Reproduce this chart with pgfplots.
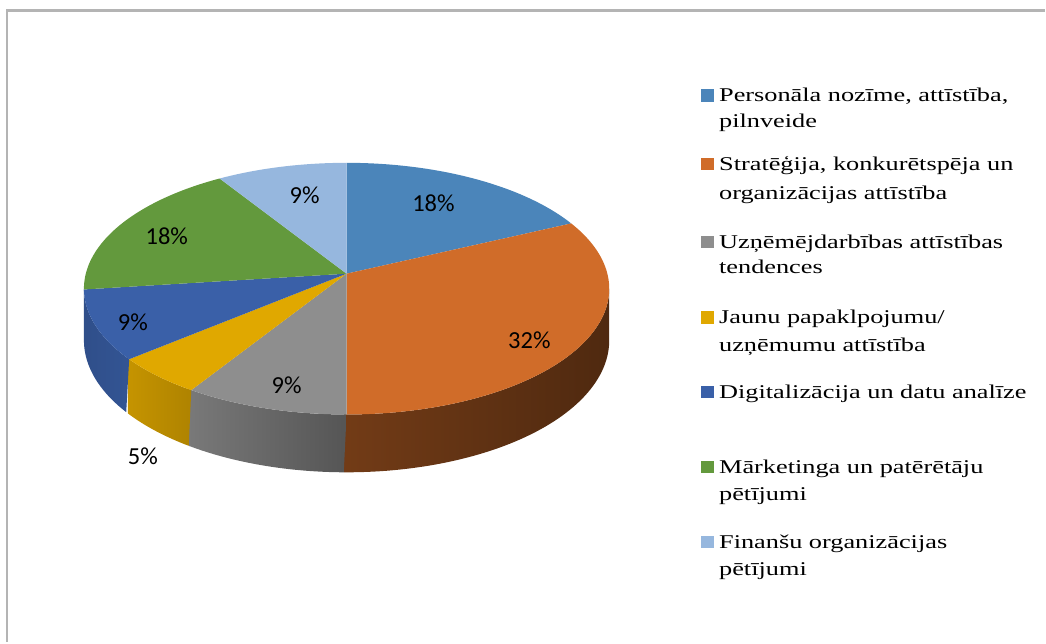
\documentclass[border=0pt]{standalone}
\usepackage{pgfplots}
\usepackage{pgfplotstable}
\pgfplotsset{compat=1.18}
\usepackage{fontspec}
\setmainfont{Liberation Serif}
\newfontfamily\lserif[FakeStretch=1.35]{Liberation Serif}
\newfontfamily\lcal{Carlito}
\newcommand\legendfont{\fontsize{19.5bp}{26bp}\selectfont\lserif}
\newcommand\pctfont{\fontsize{24.5bp}{28bp}\selectfont\lcal}
\definecolor{pie0}{HTML}{4B85BA}
\definecolor{pie1}{HTML}{D06C29}
\definecolor{pie2}{HTML}{8E8E8E}
\definecolor{pie3}{HTML}{E0A800}
\definecolor{pie4}{HTML}{3A60A8}
\definecolor{pie5}{HTML}{63993D}
\definecolor{pie6}{HTML}{96B7DE}
\definecolor{frame}{HTML}{B4B4B4}
\newcommand\getang[1]{\csname ang#1\endcsname}
\newcommand\row[2]{\raisebox{0pt}[#1bp][0pt]{#2}}
\newcommand\cont[2]{\addlegendimage{empty legend}\addlegendentry{\row{#1}{#2}}}
\begin{document}
\begin{tikzpicture}
\pgfplotstableread{
share
18
32
9
5
9
18
9
}\piedata
\expandafter\def\csname ang0\endcsname{90}
\def\cum{90}
\pgfplotsforeachungrouped \i in {0,...,6}{%
  \pgfplotstablegetelem{\i}{share}\of\piedata
  \pgfmathsetmacro\cum{\cum-3.6*\pgfplotsretval}%
  \pgfmathtruncatemacro\j{\i+1}%
  \expandafter\xdef\csname ang\j\endcsname{\cum}%
}
\begin{axis}[
  width=1046bp, height=643bp, scale only axis,
  xmin=0, xmax=1046, ymin=0, ymax=643, y dir=reverse,
  hide axis, clip=false,
  declare function={
    px(\t)=347+261.1*cos(\t)/(1+0.119*sin(\t));
    py(\t)=274-124.2*sin(\t)/(1+0.119*sin(\t));
    dep(\t)=51/(1+0.119*sin(\t));
    sa(\a,\b,\s)=\a+(\b-\a)*(1-abs(\s-1));
  },
  legend style={draw=none, fill=none, inner sep=0pt, outer sep=0pt,
    at={(axis cs:702,84)}, anchor=north west,
    row sep=-1.3bp, column sep=5.5bp, cells={anchor=base west},
    font=\legendfont, nodes={inner sep=0pt, outer sep=0pt}},
  legend image code/.code={\fill[#1] (0bp,0bp) rectangle (12.5bp,12.5bp);},
]
\path (rel axis cs:0,0) rectangle (rel axis cs:1,1);
\draw[frame, line width=2.5bp] (axis cs:7,643) -- (axis cs:7,10.5) -- (axis cs:1046,10.5);
% sides (slightly overlapping seams)
\addplot[forget plot, draw=none, left color=pie1!55!black, right color=pie1!38!black, domain=0:2, samples=121]
  ({px(sa(\getang{2}-0.5,-6.83,x))}, {py(sa(\getang{2}-0.5,-6.83,x))+(x>1)*dep(sa(\getang{2}-0.5,-6.83,x))}) -- cycle;
\addplot[forget plot, draw=none, left color=pie2!85!black, right color=pie2!60!black, domain=0:2, samples=121]
  ({px(sa(\getang{3}-0.5,\getang{2},x))}, {py(sa(\getang{3}-0.5,\getang{2},x))+(x>1)*dep(sa(\getang{3}-0.5,\getang{2},x))}) -- cycle;
\addplot[forget plot, draw=none, left color=pie3!88!black, right color=pie3!78!black, domain=0:2, samples=61]
  ({px(sa(\getang{4}-0.5,\getang{3},x))}, {py(sa(\getang{4}-0.5,\getang{3},x))+(x>1)*dep(sa(\getang{4}-0.5,\getang{3},x))}) -- cycle;
\addplot[forget plot, draw=none, left color=pie4!82!black, right color=pie4!88!black, domain=0:2, samples=61]
  ({px(sa(\getang{5},\getang{4},x))}, {py(sa(\getang{5},\getang{4},x))+(x>1)*dep(sa(\getang{5},\getang{4},x))}) -- cycle;
% top faces
\addplot[draw=none, fill=pie0, domain=\getang{1}:\getang{0}, samples=60] ({px(x)},{py(x)}) -- (347,274) -- cycle;
\addlegendentry{\row{18}{Personāla nozīme, attīstība,}}
\cont{25}{pilnveide}
\addplot[draw=none, fill=pie1, domain=\getang{2}:\getang{1}, samples=90] ({px(x)},{py(x)}) -- (347,274) -- cycle;
\addlegendentry{\row{43}{Stratēģija, konkurētspēja un}}
\cont{29}{organizācijas attīstība}
\addplot[draw=none, fill=pie2, domain=\getang{3}:\getang{2}, samples=40] ({px(x)},{py(x)}) -- (347,274) -- cycle;
\addlegendentry{\row{49}{Uzņēmējdarbības attīstības}}
\cont{25}{tendences}
\addplot[draw=none, fill=pie3, domain=\getang{4}:\getang{3}, samples=30] ({px(x)},{py(x)}) -- (347,274) -- cycle;
\addlegendentry{\row{50}{Jaunu papaklpojumu/}}
\cont{28}{uzņēmumu attīstība}
\addplot[draw=none, fill=pie4, domain=\getang{5}:\getang{4}, samples=40] ({px(x)},{py(x)}) -- (347,274) -- cycle;
\addlegendentry{\row{46}{Digitalizācija un datu analīze}}
\addplot[draw=none, fill=pie5, domain=\getang{6}:\getang{5}, samples=60] ({px(x)},{py(x)}) -- (347,274) -- cycle;
\addlegendentry{\row{75}{Mārketinga un patērētāju}}
\cont{27}{pētījumi}
\addplot[draw=none, fill=pie6, domain=\getang{7}:\getang{6}, samples=40] ({px(x)},{py(x)}) -- (347,274) -- cycle;
\addlegendentry{\row{48}{Finanšu organizācijas}}
\cont{27}{pētījumi}
% labels
\node[font=\pctfont] at (axis cs:434,203) {18\%};
\node[font=\pctfont] at (axis cs:530,341) {32\%};
\node[font=\pctfont] at (axis cs:287,386) {9\%};
\node[font=\pctfont] at (axis cs:143,457) {5\%};
\node[font=\pctfont] at (axis cs:133,323) {9\%};
\node[font=\pctfont] at (axis cs:167,237) {18\%};
\node[font=\pctfont] at (axis cs:305,195) {9\%};
\end{axis}
\end{tikzpicture}
\end{document}
